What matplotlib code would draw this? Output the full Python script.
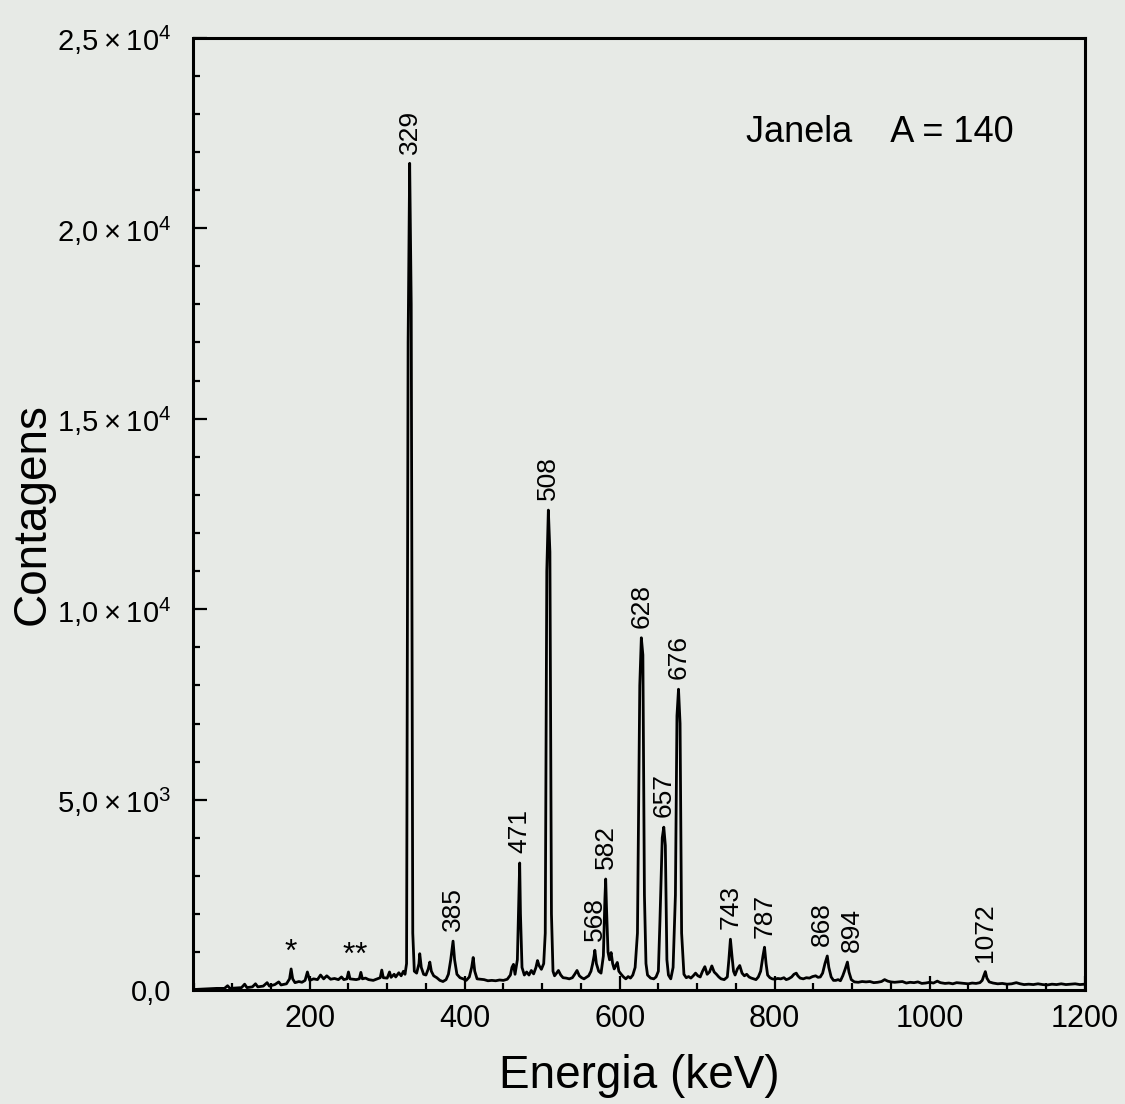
import matplotlib
matplotlib.use('Agg')
import matplotlib.pyplot as plt
from matplotlib.ticker import MultipleLocator, FixedLocator

plt.rcParams['font.family'] = ['Liberation Sans', 'DejaVu Sans']
plt.rcParams['mathtext.fontset'] = 'custom'
plt.rcParams['mathtext.rm'] = 'Liberation Sans'
plt.rcParams['mathtext.default'] = 'regular'

# spectrum (energy in keV, counts)
energia = [50, 60, 70, 80, 90, 94, 97, 105, 112, 116, 119, 126, 130, 133, 140, 145, 148, 155, 160, 163,
           170, 174, 176, 178, 181, 186, 190, 194, 197, 200, 205, 210, 214, 218, 222, 227, 232, 237, 241, 244,
           248, 250, 252, 256, 260, 264, 266, 268, 272, 276, 282, 287, 291, 293, 295, 300, 303, 305, 309, 311,
           315, 318, 321, 323, 325, 327, 329, 331, 333, 335, 338, 341, 342, 344, 347, 350, 353, 355, 357, 360,
           364, 368, 372, 376, 379, 382, 385, 387, 390, 394, 398, 402, 406, 409, 411, 413, 416, 420, 425, 430,
           435, 440, 445, 450, 455, 459, 461, 463, 465, 468, 470, 471, 472, 474, 477, 480, 483, 486, 489, 492,
           494, 496, 499, 502, 504, 506, 508, 510, 512, 514, 516, 519, 521, 524, 527, 531, 535, 539, 542, 545,
           548, 551, 554, 557, 560, 563, 565, 567, 568, 570, 573, 576, 579, 581, 582, 583, 585, 587, 589, 591,
           593, 595, 597, 599, 602, 605, 608, 611, 614, 617, 620, 623, 626, 628, 630, 632, 634, 636, 640, 644,
           647, 650, 652, 655, 657, 659, 661, 663, 666, 669, 672, 674, 676, 678, 680, 683, 686, 689, 692, 695,
           698, 701, 704, 707, 710, 713, 716, 719, 722, 725, 728, 731, 735, 739, 741, 743, 745, 747, 749, 752,
           755, 758, 761, 764, 767, 770, 773, 776, 779, 782, 785, 787, 789, 791, 794, 797, 800, 804, 808, 812,
           815, 818, 822, 825, 828, 830, 833, 837, 841, 845, 849, 853, 856, 859, 862, 865, 868, 870, 873, 876,
           879, 882, 885, 888, 891, 894, 896, 899, 903, 908, 913, 918, 923, 928, 933, 938, 942, 946, 950, 955,
           960, 965, 970, 975, 980, 985, 990, 995, 1000, 1005, 1010, 1014, 1020, 1025, 1030, 1035, 1040, 1045, 1050, 1055,
           1060, 1065, 1068, 1070, 1072, 1074, 1077, 1082, 1088, 1094, 1100, 1106, 1112, 1117, 1122, 1128, 1134, 1140, 1146, 1152,
           1158, 1164, 1170, 1176, 1182, 1188, 1194, 1200]
contagens = [20, 30, 40, 50, 50, 120, 50, 60, 70, 160, 70, 90, 170, 90, 110, 200, 110, 150, 220, 140,
             170, 300, 560, 300, 200, 230, 210, 260, 480, 260, 300, 280, 400, 300, 380, 290, 310, 280, 350, 280,
             300, 480, 300, 290, 280, 300, 470, 300, 320, 280, 260, 300, 330, 530, 330, 320, 480, 340, 420, 350,
             460, 380, 500, 420, 700, 17000, 21700, 18000, 1500, 500, 450, 700, 960, 600, 420, 400, 560, 740, 500, 380,
             330, 260, 230, 280, 420, 800, 1290, 800, 420, 330, 300, 260, 350, 600, 860, 500, 300, 290, 280, 250,
             260, 250, 270, 260, 290, 400, 600, 680, 420, 800, 2500, 3340, 2000, 600, 400, 480, 400, 520, 430, 600,
             780, 650, 550, 700, 1500, 11000, 12600, 11500, 2000, 500, 380, 460, 520, 400, 330, 320, 300, 330, 420, 520,
             380, 330, 300, 340, 380, 500, 680, 900, 1050, 700, 500, 450, 900, 2400, 2920, 2200, 1000, 800, 990, 700,
             560, 650, 730, 500, 420, 350, 300, 360, 320, 400, 600, 1500, 8000, 9250, 8800, 2500, 700, 400, 320, 300,
             350, 500, 1800, 4000, 4280, 3800, 800, 400, 300, 600, 2500, 7200, 7900, 7000, 1500, 420, 330, 360, 320, 380,
             450, 380, 350, 500, 620, 420, 480, 640, 480, 420, 350, 300, 280, 350, 800, 1340, 900, 500, 400, 560,
             650, 450, 380, 420, 350, 320, 300, 280, 350, 500, 900, 1130, 700, 400, 330, 300, 290, 310, 300, 330,
             280, 300, 350, 420, 450, 380, 320, 300, 330, 320, 360, 380, 340, 350, 450, 700, 900, 600, 350, 260,
             260, 280, 250, 380, 550, 740, 480, 280, 220, 210, 230, 220, 230, 200, 210, 230, 280, 240, 220, 210,
             220, 230, 190, 210, 200, 220, 180, 190, 210, 190, 240, 200, 180, 190, 170, 200, 190, 180, 170, 190,
             180, 200, 260, 380, 490, 320, 220, 190, 170, 180, 160, 170, 200, 170, 150, 160, 150, 170, 150, 140,
             160, 150, 170, 150, 160, 170, 150, 160]

picos = [329, 385, 471, 508, 568, 582, 628, 657, 676, 743, 787, 868, 894, 1072]
altura_picos = [21700, 1290, 3340, 12600, 1050, 2920, 9250, 4280, 7900, 1340, 1130, 900, 740, 490]
desvio_rotulos = [0, 0, 0, 0, 0, 0, 0, 0, 0, 0, 0, -4, 3, 0]
asteriscos = [176, 250, 266]
altura_asteriscos = [560, 480, 470]

y_ticks = [0, 5000, 10000, 15000, 20000, 25000]
y_labels = ['0,0', r'$5{,}0\times10^3$', r'$1{,}0\times10^4$', r'$1{,}5\times10^4$',
            r'$2{,}0\times10^4$', r'$2{,}5\times10^4$']

bg = '#e7eae6'
fig = plt.figure(figsize=(11.25, 11.04), dpi=100, facecolor=bg)
ax = fig.add_axes([0.172, 0.103, 0.792, 0.863], facecolor=bg)

ax.plot(energia, contagens, color='black', lw=2.0)

for e, h, d in zip(picos, altura_picos, desvio_rotulos):
    ax.annotate(str(e), (e, h), xytext=(d, 7), textcoords='offset points',
                rotation=90, ha='center', va='bottom', fontsize=19)
for e, h in zip(asteriscos, altura_asteriscos):
    ax.annotate('*', (e, h), xytext=(0, 1), textcoords='offset points',
                ha='center', va='bottom', fontsize=23)

ax.text(0.92, 0.90, 'Janela    A = 140', transform=ax.transAxes,
        ha='right', va='center', fontsize=26)

ax.set_xlim(50, 1200)
ax.set_ylim(0, 25000)
ax.xaxis.set_major_locator(FixedLocator([200, 400, 600, 800, 1000, 1200]))
ax.xaxis.set_minor_locator(MultipleLocator(50))
ax.set_yticks(y_ticks)
ax.set_yticklabels(y_labels)
ax.yaxis.set_minor_locator(MultipleLocator(1000))
ax.tick_params(which='both', direction='in', top=False, right=False, width=1.6)
ax.tick_params(which='major', length=10)
ax.tick_params(which='minor', length=5)
ax.tick_params(axis='x', labelsize=22, pad=10)
ax.tick_params(axis='y', labelsize=21, pad=16)
for s in ax.spines.values():
    s.set_linewidth(2.2)

ax.set_xlabel('Energia (keV)', fontsize=33, labelpad=14)
ax.set_ylabel('Contagens', fontsize=33, labelpad=2)

plt.savefig('out.png', dpi=100, facecolor=bg)
